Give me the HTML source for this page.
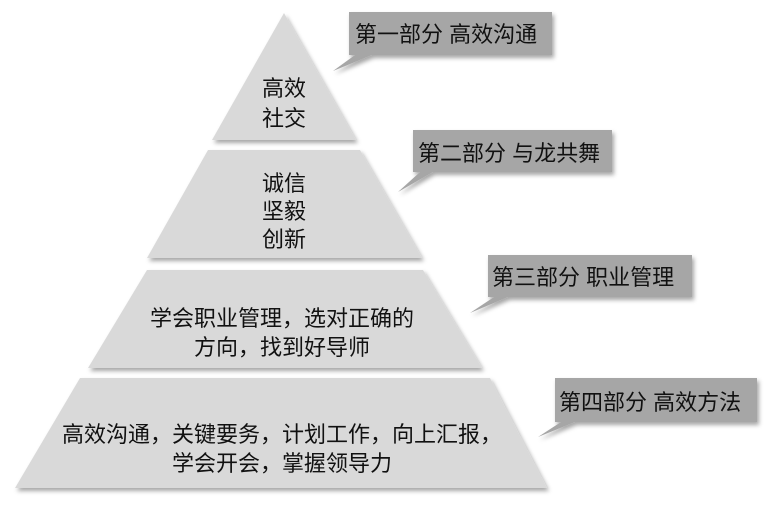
<!DOCTYPE html>
<html><head><meta charset="utf-8"><style>
body{margin:0;background:#fff;width:772px;height:510px;overflow:hidden}
svg text{font-family:"Liberation Sans","Noto Sans CJK SC",sans-serif;fill:#111}
</style></head><body>
<svg width="772" height="510" viewBox="0 0 772 510">
<defs><filter id="s" x="-10%" y="-10%" width="130%" height="130%"><feDropShadow dx="2" dy="3" stdDeviation="2" flood-color="#000" flood-opacity="0.35"/></filter></defs>
<g fill="#d9d9d9" filter="url(#s)">
<polygon points="284,13 356,140 212,140"/>
<polygon points="208,150 360,150 422,258 147,258"/>
<polygon points="147,270 423,270 482,368 88,368"/>
<polygon points="80,378 490,378 547,488 15,488"/>
</g>
<g fill="#a6a6a6" filter="url(#s)">
<polygon points="349,12 552,12 552,55 372,55 333,71 355,55 349,55"/>
<polygon points="413,130 612,130 612,172 433,172 398,192 420,172 413,172"/>
<polygon points="488,255 692,255 692,297 508,297 470,313 494,297 488,297"/>
<polygon points="555,378 757,378 757,422 575,422 538,437 561,422 555,422"/>
</g>
<g font-size="22" text-anchor="middle">
<text x="284" y="96">高效</text><text x="284" y="126">社交</text>
<text x="284" y="191">诚信</text><text x="284" y="219">坚毅</text><text x="284" y="247">创新</text>
<text x="282" y="326">学会职业管理，选对正确的</text><text x="282" y="355">方向，找到好导师</text>
<text x="282" y="442">高效沟通，关键要务，计划工作，向上汇报，</text><text x="282" y="471">学会开会，掌握领导力</text>
</g>
<g font-size="22">
<text x="355" y="42">第一部分 高效沟通</text>
<text x="418" y="161">第二部分 与龙共舞</text>
<text x="492" y="285">第三部分 职业管理</text>
<text x="559" y="410">第四部分 高效方法</text>
</g>
</svg>
</body></html>
